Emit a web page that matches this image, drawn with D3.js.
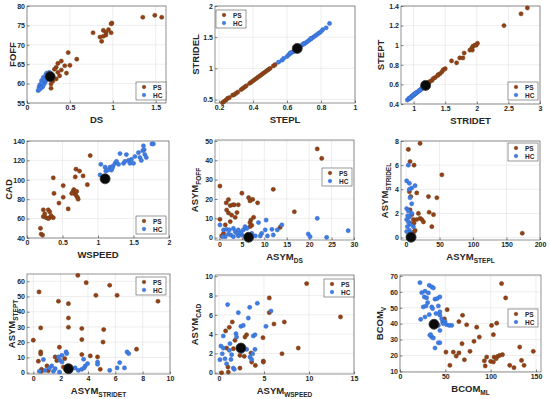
<!DOCTYPE html>
<html>
<head>
<meta charset="utf-8">
<script src="https://cdn.jsdelivr.net/npm/d3@7"></script>
<style>
  body { margin: 0; background: #fff; }
  svg { display: block; font-family: "Liberation Sans", Arial, sans-serif; }
</style>
</head>
<body>
<div id="chart"></div>
<script>
// values, [x, y] pairs, one list per group and panel

// DS vs FOFF
const dsFoffPS = [[1.35,77.1],[1.49,77.6],[1.57,77.1],[0.99,75.6],[0.98,75.4],[0.77,73.1],[0.89,73.7],[0.92,73.2],[0.95,73.9],[0.98,73.1],[0.85,72.0],[0.87,70.9],[0.92,72.5],[0.89,72.2],[0.58,66.3],[0.48,68.0],[0.40,65.8],[0.36,65.2],[0.34,64.2],[0.32,63.7],[0.50,64.7],[0.44,64.6],[0.46,62.7],[0.36,62.9],[0.34,61.2],[0.28,59.9],[0.28,58.8],[0.30,60.6],[0.38,62.0],[0.40,63.5]];
const dsFoffHC = [[0.13,58.2],[0.15,58.6],[0.17,59.3],[0.18,59.9],[0.19,60.5],[0.21,61.2],[0.23,61.9],[0.25,62.5],[0.23,62.7],[0.26,62.9],[0.19,61.6],[0.17,60.8],[0.15,59.7],[0.14,59.1],[0.21,60.2],[0.22,60.8],[0.18,59.1],[0.19,59.5],[0.25,61.4],[0.24,62.0],[0.16,58.9],[0.20,61.0],[0.22,62.3],[0.14,58.5],[0.17,60.1]];
const dsFoffMean = [0.27, 61.8];

// STEPL vs STRIDEL
const steplStridelPS = [[0.22,0.45],[0.23,0.47],[0.24,0.49],[0.25,0.52],[0.26,0.53],[0.28,0.57],[0.29,0.58],[0.30,0.60],[0.31,0.62],[0.33,0.66],[0.34,0.68],[0.35,0.70],[0.36,0.72],[0.38,0.76],[0.39,0.78],[0.40,0.80],[0.41,0.82],[0.42,0.84],[0.43,0.86],[0.44,0.88],[0.45,0.90],[0.46,0.92],[0.47,0.94],[0.48,0.96],[0.49,0.98],[0.50,1.00],[0.52,1.04],[0.53,1.06]];
const steplStridelHC = [[0.55,1.10],[0.57,1.13],[0.58,1.16],[0.60,1.19],[0.61,1.22],[0.62,1.24],[0.63,1.26],[0.64,1.27],[0.65,1.30],[0.67,1.33],[0.68,1.35],[0.69,1.38],[0.70,1.40],[0.71,1.41],[0.72,1.43],[0.73,1.45],[0.74,1.47],[0.75,1.49],[0.76,1.51],[0.77,1.53],[0.78,1.55],[0.79,1.57],[0.80,1.59],[0.81,1.62],[0.83,1.65],[0.85,1.72],[0.62,1.25],[0.66,1.31],[0.70,1.39],[0.74,1.48]];
const steplStridelMean = [0.66, 1.32];

// STRIDET vs STEPT
const stridetSteptPS = [[2.43,1.20],[2.70,1.32],[2.80,1.38],[2.01,1.02],[1.97,1.00],[1.94,0.99],[1.92,0.97],[1.99,1.00],[1.89,0.95],[1.93,0.95],[1.80,0.92],[1.73,0.87],[1.78,0.87],[1.68,0.82],[1.60,0.84],[1.50,0.76],[1.47,0.75],[1.42,0.71],[1.39,0.70],[1.34,0.67],[1.29,0.64],[1.26,0.63],[1.24,0.62],[1.45,0.73],[1.38,0.69],[1.31,0.66]];
const stridetSteptHC = [[0.90,0.44],[0.92,0.45],[0.94,0.46],[0.96,0.47],[0.98,0.48],[1.00,0.49],[1.02,0.50],[1.04,0.51],[1.06,0.52],[1.08,0.53],[1.10,0.54],[1.12,0.55],[1.14,0.56],[1.16,0.57],[1.18,0.58],[0.93,0.46],[0.97,0.48],[1.01,0.50],[1.05,0.52],[1.09,0.54],[1.13,0.56],[1.17,0.58],[0.95,0.46],[0.99,0.49],[1.03,0.51]];
const stridetSteptMean = [1.19, 0.59];

// WSPEED vs CAD
const wspeedCadPS = [[0.89,125],[0.69,111],[0.74,109],[0.79,104],[0.68,103],[0.85,95],[0.51,94],[0.37,102],[0.38,86],[0.51,82],[0.45,76],[0.58,70],[0.30,69],[0.32,67],[0.23,69],[0.25,65],[0.23,62],[0.27,61],[0.32,61],[0.34,63],[0.37,61],[0.30,60],[0.19,50],[0.20,44],[0.22,43],[0.66,90],[0.67,86],[0.69,84],[0.65,88],[0.71,82],[0.72,80],[0.63,86],[0.70,88]];
const wspeedCadHC = [[1.04,116],[1.03,105],[1.10,113],[1.11,109],[1.17,113],[1.21,114],[1.24,117],[1.26,119],[1.29,116],[1.31,127],[1.40,126],[1.36,117],[1.38,119],[1.43,120],[1.45,117],[1.47,121],[1.50,117],[1.52,124],[1.57,128],[1.59,123],[1.61,120],[1.64,135],[1.65,131],[1.66,126],[1.68,123],[1.76,137],[1.78,137],[1.19,110],[1.20,112],[1.14,110],[1.63,130]];
const wspeedCadMean = [1.10, 101];

// ASYM DS vs ASYM FOFF
const asymDsFoffPS = [[21.8,45.9],[22.8,41.0],[0.1,26.7],[12.0,25.0],[5.0,23.0],[6.5,20.7],[7.4,19.8],[6.8,19.0],[2.0,19.7],[1.5,18.0],[2.4,16.6],[3.0,17.0],[8.5,18.0],[4.2,17.0],[3.3,17.0],[1.6,14.3],[16.7,13.4],[2.0,12.8],[3.9,13.0],[2.7,11.7],[3.5,10.5],[7.6,10.5],[0.1,9.5],[7.0,9.1],[2.4,8.3],[6.8,7.8],[7.2,6.4],[6.8,5.7],[13.5,5.3],[1.3,6.6],[0.5,0.9],[0.9,2.2],[6.1,0.5]];
const asymDsFoffHC = [[0.1,6.6],[0.9,4.0],[1.6,4.3],[2.2,4.0],[3.1,4.8],[2.0,1.9],[2.5,1.4],[3.5,3.1],[4.2,4.0],[5.0,1.4],[5.3,4.0],[5.7,5.7],[6.1,4.8],[7.2,2.2],[8.0,0.9],[8.7,7.8],[9.4,2.2],[10.2,4.0],[10.4,9.1],[10.7,0.9],[11.7,4.3],[12.0,1.4],[12.9,4.0],[13.9,6.6],[9.1,0.9],[1.3,0.5],[3.1,0.5],[4.2,0.9],[19.8,1.9],[20.2,0.5],[21.8,10.0],[23.9,0.2],[28.7,3.6],[0.7,0.5],[3.9,2.2],[4.8,2.6]];
const asymDsFoffMean = [6.5, 0.2];

// ASYM STEPL vs ASYM STRIDEL
const asymSteplStridelPS = [[21,7.8],[3.5,7.3],[6,6.3],[12,6.0],[53.5,5.2],[16,3.7],[7,3.4],[33.5,3.4],[46,3.3],[5,3.8],[18.5,2.0],[34.5,2.1],[41,1.9],[21,1.6],[23.5,1.5],[26,1.3],[11,1.5],[12,1.2],[38.5,0.9],[13.5,0.6],[12.5,0.5],[173.5,0.36],[6,2.3],[8.5,1.9],[16,1.5],[6,1.2]];
const asymSteplStridelHC = [[1,4.7],[5,4.5],[13.5,4.3],[8.5,4.1],[5,4.0],[6,3.3],[1,2.4],[3.5,2.2],[8.5,2.0],[5,1.7],[1,1.5],[3.5,1.3],[6,1.1],[2,0.9],[5,0.6],[1,0.5],[7,0.4],[3.5,0.1],[6,0.1],[3.5,6.0],[8.5,2.8],[2.5,1.8],[11,0.9]];
const asymSteplStridelMean = [7.5, 0.03];

// ASYM STRIDET vs ASYM STEPT
const asymStridetSteptPS = [[3.26,63.9],[3.87,59.1],[5.59,57.4],[0.42,53.0],[4.58,50.8],[6.13,50.8],[1.84,46.9],[2.57,45.3],[9.12,46.9],[2.57,35.9],[2.57,29.8],[0.54,29.4],[3.55,29.0],[5.15,28.3],[3.55,21.7],[0.0,21.3],[5.10,20.1],[1.91,16.7],[7.55,15.4],[0.54,13.6],[0.54,12.3],[3.55,11.9],[4.17,11.0],[4.70,10.3],[1.60,10.3],[0.37,7.5],[1.72,7.9],[1.00,4.4],[4.90,2.2],[0.60,2.2],[0.60,0.9],[1.10,1.3],[2.20,3.7],[2.30,9.2]];
const asymStridetSteptHC = [[2.40,13.6],[2.10,11.4],[2.45,12.5],[1.84,10.3],[1.96,8.1],[2.10,7.0],[0.74,8.6],[1.18,3.1],[1.35,4.4],[1.60,2.6],[1.47,0.9],[0.44,0.9],[0.86,1.5],[3.06,3.1],[3.30,1.5],[3.55,2.2],[3.72,3.1],[3.80,4.4],[3.97,5.9],[3.68,8.8],[4.70,7.0],[4.70,5.5],[5.59,1.5],[6.13,3.1],[6.32,6.6],[6.67,3.1],[6.86,13.6],[6.98,12.5],[1.91,0.4],[2.70,0.9]];
const asymStridetSteptMean = [2.57, 2.6];

// ASYM WSPEED vs ASYM CAD
const asymWspeedCadPS = [[9.74,9.24],[5.59,7.75],[13.5,5.78],[5.59,6.23],[6.11,5.05],[7.26,5.26],[1.48,5.26],[1.15,4.71],[0.74,4.33],[3.07,3.94],[2.89,3.70],[4.89,3.63],[1.78,3.36],[8.81,2.56],[7.00,1.97],[0.85,2.56],[2.33,1.80],[2.81,1.70],[3.55,2.04],[4.93,1.21],[4.93,1.11],[4.04,0.76],[1.00,0.59],[2.33,0.48],[1.04,0.07],[0.30,0.00],[3.63,1.11],[1.60,2.49]];
const asymWspeedCadHC = [[0.96,7.06],[4.26,7.20],[3.41,6.78],[5.78,6.40],[2.15,6.23],[3.26,5.67],[2.44,4.81],[5.22,4.81],[0.48,3.81],[1.89,4.05],[1.96,3.70],[3.81,3.81],[4.00,3.94],[1.22,3.01],[0.22,2.77],[0.48,2.56],[1.15,2.32],[0.37,1.97],[1.41,1.87],[3.07,2.42],[0.11,1.35],[0.67,1.45],[1.33,1.38],[1.59,0.48],[1.70,0.35],[3.44,1.63],[3.74,1.97],[4.00,2.42],[0.85,0.93],[2.52,2.22],[3.63,1.38],[2.70,4.90]];
const asymWspeedCadMean = [2.44, 2.56];

// BCOM ML vs BCOM V
const bcomPS = [[112,65.2],[116.5,56.2],[52,48.8],[69,45.3],[49,43.0],[65,41.3],[73.5,39.3],[101,38.9],[106.6,40.3],[84.6,37.8],[87.5,31.6],[103,33.1],[81.6,28.9],[68.4,27.4],[132,25.3],[147,22.6],[50.7,22.1],[58.8,22.1],[65,21.6],[62,19.6],[77.2,22.6],[71,17.3],[55,13.8],[93,16.6],[95.6,19.0],[100,16.3],[103.7,19.0],[107.7,19.4],[110,20.1],[113,20.5],[94,13.4],[121,13.8],[125.7,12.3],[134,16.9],[136.8,13.8],[103,15.9],[106,18.0]];
const bcomHC = [[22,65.8],[24,59.5],[27.6,60.4],[31.3,59.3],[32.3,64.1],[35,63.1],[36.8,62.5],[26.8,56.8],[29.4,56.2],[30.5,53.2],[25.7,50.5],[28.7,51.1],[35,50.5],[36,49.5],[38.6,55.4],[41,55.8],[44,56.8],[42.3,51.1],[44,47.4],[39.7,46.4],[32.3,45.7],[22.8,42.7],[27.6,44.2],[44,45.3],[46,43.0],[47,41.0],[49.6,41.3],[51.5,39.3],[54.4,38.9],[57,38.9],[42.3,38.9],[44,35.7],[33,32.7],[35,31.6],[36.8,31.0],[42.3,28.0],[44,28.0],[38.6,24.7],[33.8,33.1],[47.8,40.0]];
const bcomMean = [37.5, 39.6];

// axis labels and ticks
const xNames = [["DS",""],["STEPL",""],["STRIDET",""],["WSPEED",""],["ASYM","DS"],["ASYM","STEPL"],["ASYM","STRIDET"],["ASYM","WSPEED"],["BCOM","ML"]];
const yNames = [["FOFF",""],["STRIDEL",""],["STEPT",""],["CAD",""],["ASYM","FOFF"],["ASYM","STRIDEL"],["ASYM","STEPT"],["ASYM","CAD"],["BCOM","V"]];
const xTickVals = [[0,0.5,1,1.5],[0.2,0.4,0.6,0.8,1],[1,1.5,2,2.5,3],[0,0.5,1,1.5,2],[0,5,10,15,20,25,30],[0,50,100,150,200],[0,2,4,6,8,10],[0,5,10,15],[0,50,100,150]];
const yTickVals = [[55,60,65,70,75,80],[0.5,1,1.5,2],[0.4,0.6,0.8,1,1.2,1.4],[40,60,80,100,120,140],[0,10,20,30,40,50],[0,2,4,6,8],[0,10,20,30,40,50,60],[0,2,4,6,8,10],[10,20,30,40,50,60,70]];
const groups = ["PS", "HC"];

const psSets = [dsFoffPS, steplStridelPS, stridetSteptPS, wspeedCadPS, asymDsFoffPS, asymSteplStridelPS, asymStridetSteptPS, asymWspeedCadPS, bcomPS];
const hcSets = [dsFoffHC, steplStridelHC, stridetSteptHC, wspeedCadHC, asymDsFoffHC, asymSteplStridelHC, asymStridetSteptHC, asymWspeedCadHC, bcomHC];
const means = [dsFoffMean, steplStridelMean, stridetSteptMean, wspeedCadMean, asymDsFoffMean, asymSteplStridelMean, asymStridetSteptMean, asymWspeedCadMean, bcomMean];

// layout: plot box (l,r,t,b), axis ranges, legend corner, y-title baseline offset
const layout = [
  {l:27, r:166, t:6, b:103, xd:[0,1.62], yd:[55,80], leg:[136,82], yl:11},
  {l:215, r:355, t:6, b:103, xd:[0.176,1], yd:[0.445,2], leg:[216,10], yl:16.5},
  {l:401, r:540, t:6, b:104, xd:[0.8,3], yd:[0.4,1.4], leg:[508,82], yl:17.5},
  {l:27, r:169, t:141, b:238, xd:[0,2], yd:[40,140], leg:[136,216], yl:15},
  {l:215, r:354, t:140, b:240, xd:[-1,30], yd:[-1.2,50.5], leg:[322,168], yl:17},
  {l:401, r:540, t:141, b:240, xd:[-7.5,200], yd:[-0.2,8], leg:[508,143], yl:13.5},
  {l:27, r:170, t:274, b:374, xd:[-0.46,10], yd:[-0.9,64.8], leg:[136,277], yl:12},
  {l:215, r:354, t:275, b:374, xd:[-0.44,15], yd:[-0.13,10.13], leg:[324,279], yl:17.5},
  {l:400, r:541, t:275, b:372, xd:[0,155.5], yd:[9.6,70.6], leg:[508,309], yl:17}
];

const width = 550, height = 399;
const psColor = "#9a3d16", psEdge = "#5e4414";
const hcColor = "#3c7fe2", hcEdge = "#3a63c8";

const svg = d3.select('#chart').append('svg')
  .attr('width', width).attr('height', height);

function label(sel, name) {
  sel.append('tspan').text(name[0]);
  if (name[1]) {
    sel.append('tspan').text(name[1])
      .attr('font-size', 6.5).attr('dy', 3);
  }
}

layout.forEach((L, i) => {
  const x = d3.scaleLinear().domain(L.xd).range([L.l, L.r]);
  const y = d3.scaleLinear().domain(L.yd).range([L.b, L.t]);
  const g = svg.append('g');

  // grid
  g.append('g').selectAll('line').data(xTickVals[i]).join('line')
    .attr('x1', d => x(d)).attr('x2', d => x(d))
    .attr('y1', L.t).attr('y2', L.b)
    .attr('stroke', '#e3e3e3').attr('stroke-width', 0.6);
  g.append('g').selectAll('line').data(yTickVals[i]).join('line')
    .attr('y1', d => y(d)).attr('y2', d => y(d))
    .attr('x1', L.l).attr('x2', L.r)
    .attr('stroke', '#e3e3e3').attr('stroke-width', 0.6);

  // axes
  const xa = g.append('g').attr('transform', `translate(0,${L.b})`)
    .call(d3.axisBottom(x).tickValues(xTickVals[i]).tickSizeInner(-2.5).tickSizeOuter(0).tickPadding(2).tickFormat(d => String(d)));
  const ya = g.append('g').attr('transform', `translate(${L.l},0)`)
    .call(d3.axisLeft(y).tickValues(yTickVals[i]).tickSizeInner(-2.5).tickSizeOuter(0).tickPadding(2).tickFormat(d => String(d)));
  [xa, ya].forEach(a => {
    a.selectAll('.domain').remove();
    a.selectAll('line').attr('stroke', '#333').attr('stroke-width', 0.6);
    a.selectAll('text').attr('font-size', 7).attr('font-weight', 'bold')
      .attr('fill', '#262626').attr('font-family', '"Liberation Sans", Arial, sans-serif');
  });

  g.append('rect').attr('x', L.l).attr('y', L.t)
    .attr('width', L.r - L.l).attr('height', L.b - L.t)
    .attr('fill', 'none').attr('stroke', '#4a4a4a').attr('stroke-width', 0.6);

  // points
  g.append('g').selectAll('circle').data(psSets[i]).join('circle')
    .attr('cx', d => x(d[0])).attr('cy', d => y(d[1])).attr('r', 2.1)
    .attr('fill', psColor).attr('stroke', psEdge).attr('stroke-width', 0.5);
  g.append('g').selectAll('circle').data(hcSets[i]).join('circle')
    .attr('cx', d => x(d[0])).attr('cy', d => y(d[1])).attr('r', 2.1)
    .attr('fill', hcColor).attr('stroke', hcEdge).attr('stroke-width', 0.5);
  g.append('circle')
    .attr('cx', x(means[i][0])).attr('cy', y(means[i][1])).attr('r', 5)
    .attr('fill', '#0a0a0a').attr('stroke', '#333').attr('stroke-width', 0.8);

  // axis titles
  const xt = g.append('text').attr('x', (L.l + L.r) / 2).attr('y', L.b + 19.5)
    .attr('text-anchor', 'middle').attr('font-size', 9.5).attr('font-weight', 'bold')
    .attr('fill', '#262626');
  label(xt, xNames[i]);
  const yt = g.append('text')
    .attr('transform', `translate(${L.l - L.yl},${(L.t + L.b) / 2}) rotate(-90)`)
    .attr('text-anchor', 'middle').attr('font-size', 9.5).attr('font-weight', 'bold')
    .attr('fill', '#262626');
  label(yt, yNames[i]);

  // legend
  const lg = g.append('g').attr('transform', `translate(${L.leg[0]},${L.leg[1]})`);
  lg.append('rect').attr('width', 30).attr('height', 18)
    .attr('fill', '#fff').attr('stroke', '#555').attr('stroke-width', 0.6);
  groups.forEach((n, k) => {
    lg.append('circle').attr('cx', 8).attr('cy', 5 + k * 8).attr('r', 1.8)
      .attr('fill', k ? hcColor : psColor).attr('stroke', k ? hcEdge : psEdge).attr('stroke-width', 0.5);
    lg.append('text').attr('x', 17).attr('y', 7.5 + k * 8).text(n)
      .attr('font-size', 6.5).attr('font-weight', 'bold').attr('fill', '#262626');
  });
});
</script>
</body>
</html>
